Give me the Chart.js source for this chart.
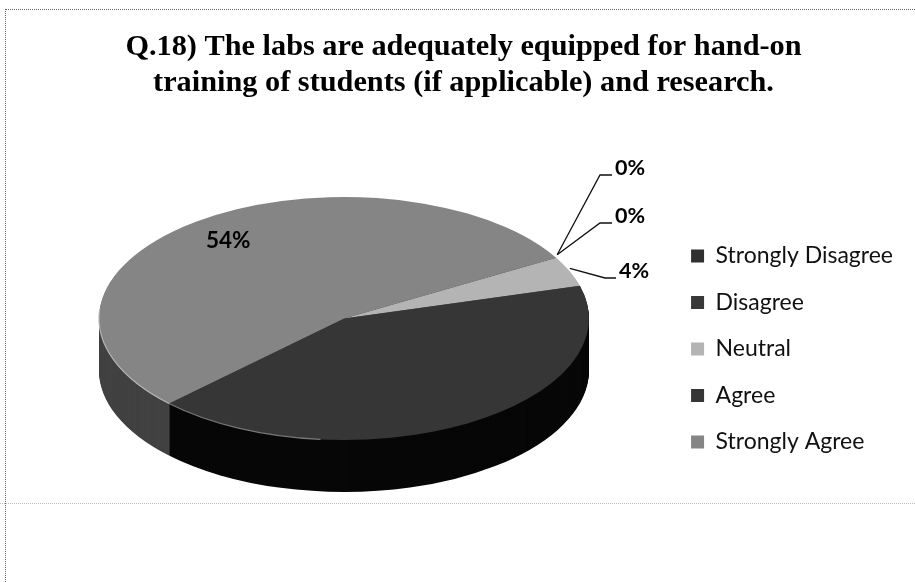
<!DOCTYPE html>
<html><head><meta charset="utf-8">
<script src="https://cdn.jsdelivr.net/npm/chart.js@4"></script>
<style>
html,body{margin:0;padding:0;background:#fff;overflow:hidden}
#wrap{position:relative;width:915px;height:582px}
canvas{position:absolute;left:0;top:0}
.f{position:absolute;pointer-events:none}
</style></head><body>
<div id="wrap">
<canvas id="c" width="915" height="582"></canvas>
<div class="f" style="left:5px;top:9px;width:910px;border-top:1px dotted #666"></div>
<div class="f" style="left:5px;top:9px;height:573px;border-left:1px dotted #666"></div>
<div class="f" style="left:0;top:503px;width:915px;border-top:1px dotted #bbb"></div>
</div>
<script>
const categories=['Strongly Disagree','Disagree','Neutral','Agree','Strongly Agree'];
const percentValues=[0,0,4,42,54];
const sliceColors=['#303030','#383838','#b4b4b4','#363636','#858585'];
const sideColors=['#222','#222','#555','#070707','#424242'];
const titleLines=['Q.18) The labs are adequately equipped for hand-on','training of students (if applicable) and research.'];
const startAngleDeg=60;

const ell={cx:344,cy:318.5,rx:245,ry:121.5,depth:52};
// label placement, one per category
const labelSpots=[
 {x:615,y:168,size:21.5,elbow:[600,175],end:612,from:[1,-3]},
 {x:615,y:216,size:21.5,elbow:[600,223],end:612,from:[1,-3]},
 {x:619,y:271,size:21.5,elbow:[605,278],end:616,from:[0,-3]},
 null,
 {x:206,y:241,size:22.5}];
// light rim on the front of the top face: slice index, arc length in radians, colour
const rims=[{slice:4,len:0.85,color:'#b5b5b5'},{slice:3,len:0.7,color:'#777'}];

const pseudo3d={id:'pseudo3d',
 beforeDatasetDraw(chart,a){
  const ctx=chart.ctx,arcs=chart.getDatasetMeta(0).data;
  const r=arcs[0].outerRadius,x0=arcs[0].x,y0=arcs[0].y;
  for(let d=ell.depth;d>0;d-=1){
   arcs.forEach((arc,i)=>{
    const p=arc.getProps(['startAngle','endAngle']);
    if(p.endAngle-p.startAngle<1e-4)return;
    ctx.save();
    ctx.translate(ell.cx,ell.cy+d);ctx.scale(ell.rx/r,ell.ry/r);ctx.translate(-x0,-y0);
    ctx.beginPath();ctx.moveTo(x0,y0);ctx.arc(x0,y0,r,p.startAngle,p.endAngle);ctx.closePath();
    ctx.fillStyle=sideColors[i];ctx.fill();ctx.restore();
   });
  }
  ctx.save();
  ctx.translate(ell.cx,ell.cy);ctx.scale(ell.rx/r,ell.ry/r);ctx.translate(-x0,-y0);
 },
 afterDatasetDraw(chart){
  const ctx=chart.ctx,arcs=chart.getDatasetMeta(0).data;
  ctx.restore();
  rims.forEach(rm=>{
   const p=arcs[rm.slice].getProps(['startAngle','endAngle']);
   const a0=rm.slice===4?p.startAngle:p.endAngle-rm.len;
   const a1=a0+rm.len;
   ctx.beginPath();ctx.ellipse(ell.cx,ell.cy,ell.rx,ell.ry,0,a0,a1);
   ctx.strokeStyle=rm.color;ctx.lineWidth=1.2;ctx.stroke();
  });
 },
 afterDraw(chart){
  const ctx=chart.ctx,arcs=chart.getDatasetMeta(0).data;
  ctx.save();ctx.textBaseline='middle';ctx.textAlign='left';
  percentValues.forEach((v,i)=>{
   const s=labelSpots[i];if(!s)return;
   const p=arcs[i].getProps(['startAngle','endAngle']),m=(p.startAngle+p.endAngle)/2;
   if(s.elbow){
    const ax=ell.cx+ell.rx*Math.cos(m)+s.from[0],ay=ell.cy+ell.ry*Math.sin(m)+s.from[1];
    ctx.beginPath();ctx.moveTo(ax,ay);ctx.lineTo(s.elbow[0],s.elbow[1]);ctx.lineTo(s.end,s.elbow[1]);
    ctx.strokeStyle='#111';ctx.lineWidth=1.3;ctx.stroke();
   }
   ctx.font='bold '+s.size+'px Lato';
   ctx.fillStyle='#000';ctx.fillText(v+'%',s.x,s.y);
  });
  ctx.restore();
 }
};

new Chart(document.getElementById('c'),{
 type:'pie',
 data:{labels:categories,datasets:[{data:percentValues,backgroundColor:sliceColors,borderWidth:0,clip:false}]},
 plugins:[pseudo3d],
 options:{
  responsive:false,animation:false,rotation:startAngleDeg,
  layout:{padding:{top:29,right:12,left:24,bottom:105}},
  plugins:{
   title:{display:true,text:titleLines,color:'#000',font:{family:'Liberation Serif',size:30.3,weight:'bold',lineHeight:1.2},padding:{top:0,bottom:10}},
   legend:{position:'right',align:'end',labels:{color:'#111',font:{family:'Lato',size:23},boxWidth:13,boxHeight:13,padding:23.5}},
   tooltip:{enabled:false}
  }
 }
});
</script>
</body></html>
